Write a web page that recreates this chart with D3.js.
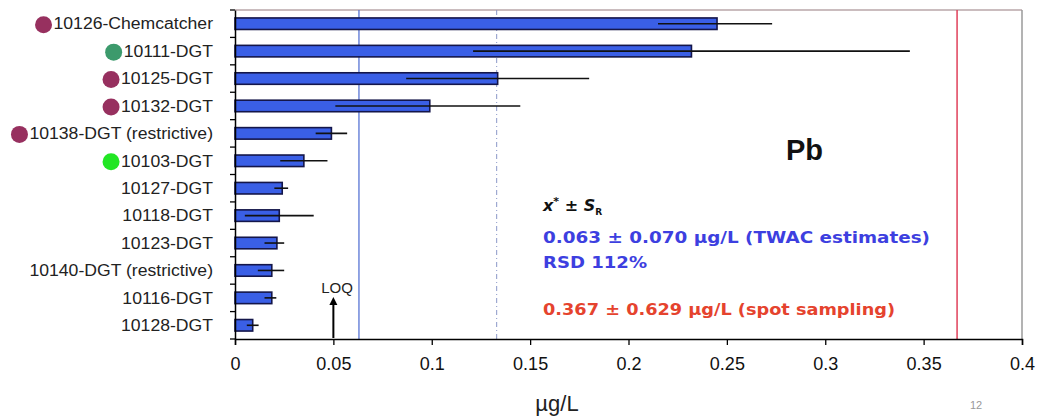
<!DOCTYPE html>
<html>
<head>
<meta charset="utf-8">
<script src="https://cdn.jsdelivr.net/npm/d3@7"></script>
<style>
  html, body { margin: 0; padding: 0; background: #fff; }
  svg { display: block; }
</style>
</head>
<body>
<svg id="chart" width="1041" height="416"></svg>
<script>
// ---- data ----
const categories = [
  "10126-Chemcatcher", "10111-DGT", "10125-DGT", "10132-DGT",
  "10138-DGT (restrictive)", "10103-DGT", "10127-DGT", "10118-DGT",
  "10123-DGT", "10140-DGT (restrictive)", "10116-DGT", "10128-DGT"
];
const values = [0.245, 0.232, 0.1335, 0.099, 0.049, 0.035, 0.024, 0.0225, 0.0213, 0.0187, 0.0187, 0.009];
const errLow  = [0.215, 0.121, 0.087, 0.051, 0.041, 0.023, 0.020, 0.005, 0.015, 0.0116, 0.015, 0.006];
const errHigh = [0.273, 0.343, 0.180, 0.145, 0.057, 0.047, 0.027, 0.040, 0.025, 0.025, 0.021, 0.012];
const dotGroup = ["maroon", "teal", "maroon", "maroon", "maroon", "lime", null, null, null, null, null, null];
const xTicks = [0, 0.05, 0.1, 0.15, 0.2, 0.25, 0.3, 0.35, 0.4];
const xTickLabels = ["0", "0.05", "0.1", "0.15", "0.2", "0.25", "0.3", "0.35", "0.4"];
const assignedValue = 0.063;
const assignedSR = 0.070;
const spotValue = 0.367;
const loqValue = 0.05;
const annotationLines = [
  "0.063 ± 0.070 µg/L (TWAC estimates)",
  "RSD 112%",
  "0.367 ± 0.629 µg/L (spot sampling)"
];
const xLabel = "µg/L";
const element = "Pb";

// ---- layout ----
const svg = d3.select("#chart");
const m = { left: 235, right: 1022, top: 10, bottom: 339 };

const x = d3.scaleLinear().domain([0, 0.4]).range([m.left, m.right]);
const y = d3.scaleBand().domain(categories).range([m.top, m.bottom]).paddingInner(0.58).paddingOuter(0.29);

const dotColor = d3.scaleOrdinal().domain(["maroon", "teal", "lime"]).range(["#97305f", "#3c9a6c", "#22e624"]);

// plot frame (top & right)
svg.append("line").attr("x1", m.left).attr("x2", m.right).attr("y1", m.top).attr("y2", m.top)
  .attr("stroke", "#b9a6a8").attr("stroke-width", 1.5);
svg.append("line").attr("x1", m.right).attr("x2", m.right).attr("y1", m.top).attr("y2", m.bottom)
  .attr("stroke", "#9a9a9a").attr("stroke-width", 1.5);

// reference lines
svg.append("line").attr("x1", x(assignedValue)).attr("x2", x(assignedValue))
  .attr("y1", m.top).attr("y2", m.bottom).attr("stroke", "#5874d4").attr("stroke-width", 1.3);
svg.append("line").attr("x1", x(assignedValue + assignedSR)).attr("x2", x(assignedValue + assignedSR))
  .attr("y1", m.top).attr("y2", m.bottom).attr("stroke", "#8a98c8").attr("stroke-width", 1)
  .attr("stroke-dasharray", "5,3,1,3");
svg.append("line").attr("x1", x(spotValue)).attr("x2", x(spotValue))
  .attr("y1", m.top).attr("y2", m.bottom).attr("stroke", "#e0405a").attr("stroke-width", 1.5);

// bars
svg.append("g").selectAll("rect").data(categories).join("rect")
  .attr("x", x(0))
  .attr("y", d => y(d))
  .attr("width", (d, i) => x(values[i]) - x(0))
  .attr("height", y.bandwidth())
  .attr("fill", "#3a5fe6")
  .attr("stroke", "#14164a")
  .attr("stroke-width", 1.6);

// error bars
svg.append("g").selectAll("line").data(categories).join("line")
  .attr("x1", (d, i) => x(errLow[i]))
  .attr("x2", (d, i) => x(errHigh[i]))
  .attr("y1", d => y(d) + y.bandwidth() / 2)
  .attr("y2", d => y(d) + y.bandwidth() / 2)
  .attr("stroke", "#111").attr("stroke-width", 1.6);

// y axis
const yAxis = d3.axisLeft(y).tickSize(0).tickFormat("");
const yg = svg.append("g").attr("transform", `translate(${m.left},0)`).call(yAxis);
yg.select(".domain").attr("stroke", "#000").attr("stroke-width", 1.5);
const bounds = d3.range(categories.length + 1).map(i => m.top + i * (m.bottom - m.top) / categories.length);
svg.append("g").selectAll("line").data(bounds).join("line")
  .attr("x1", m.left - 5).attr("x2", m.left).attr("y1", d => d).attr("y2", d => d)
  .attr("stroke", "#000").attr("stroke-width", 1.3);

// category labels (slightly stretched horizontally like the original)
const labels = svg.append("g").selectAll("text").data(categories).join("text")
  .attr("x", 213)
  .attr("y", d => y(d) + y.bandwidth() / 2)
  .attr("dy", "0.36em")
  .attr("text-anchor", "end")
  .attr("font-family", "Liberation Sans, Arial, sans-serif")
  .attr("font-size", 16)
  .attr("fill", "#222")
  .text(d => d);
labels.each(function() {
  const len = this.getComputedTextLength();
  d3.select(this).attr("textLength", len * 1.1).attr("lengthAdjust", "spacingAndGlyphs");
});

// dots before labels
labels.each(function(d, i) {
  if (!dotGroup[i]) return;
  const len = +this.getAttribute("textLength");
  svg.append("circle")
    .attr("cx", 213 - len - 10)
    .attr("cy", y(d) + y.bandwidth() / 2 + 1)
    .attr("r", 8.5)
    .attr("fill", dotColor(dotGroup[i]));
});

// x axis
const xAxis = d3.axisBottom(x).tickValues(xTicks).tickSize(6).tickFormat((d, i) => xTickLabels[i]);
const xg = svg.append("g").attr("transform", `translate(0,${m.bottom})`).call(xAxis);
xg.select(".domain").attr("stroke", "#000").attr("stroke-width", 1.5);
xg.selectAll(".tick line").attr("stroke", "#000").attr("stroke-width", 1.3);
xg.selectAll(".tick text")
  .attr("y", 18).attr("dy", "0.71em")
  .attr("font-family", "Liberation Sans, Arial, sans-serif")
  .attr("font-size", 18)
  .attr("fill", "#111");

svg.append("text").attr("x", 557).attr("y", 411).attr("text-anchor", "middle")
  .attr("font-family", "Liberation Sans, Arial, sans-serif").attr("font-size", 22).attr("fill", "#222")
  .text(xLabel);

// LOQ arrow
svg.append("defs").append("marker").attr("id", "arr").attr("viewBox", "0 0 10 10")
  .attr("refX", 5).attr("refY", 5).attr("markerWidth", 4).attr("markerHeight", 5).attr("orient", "auto")
  .append("path").attr("d", "M0,0 L10,5 L0,10 z").attr("fill", "#000");
svg.append("line").attr("x1", x(loqValue)).attr("x2", x(loqValue))
  .attr("y1", m.bottom - 1).attr("y2", 301).attr("stroke", "#000").attr("stroke-width", 2)
  .attr("marker-end", "url(#arr)");
svg.append("text").attr("x", 337).attr("y", 293).attr("text-anchor", "middle")
  .attr("font-family", "Liberation Sans, Arial, sans-serif").attr("font-size", 15).attr("fill", "#222")
  .text("LOQ");

// element label
svg.append("text").attr("x", 786).attr("y", 160)
  .attr("font-family", "Liberation Sans, Arial, sans-serif").attr("font-weight", "bold")
  .attr("font-size", 29).attr("fill", "#111").text(element);

// annotation text
const ann = svg.append("g").attr("font-family", "DejaVu Sans, sans-serif").attr("font-weight", "bold");
const hdr = ann.append("text").attr("x", 543).attr("y", 211).attr("font-size", 16).attr("fill", "#111");
hdr.append("tspan").attr("font-style", "italic").text("x");
hdr.append("tspan").attr("dy", -6).attr("font-size", 11).text("*");
hdr.append("tspan").attr("dy", 6).text(" ± ");
hdr.append("tspan").attr("font-style", "italic").text("S");
hdr.append("tspan").attr("dy", 4).attr("font-size", 9).text("R");

ann.append("text").attr("x", 543).attr("y", 243).attr("font-size", 16).attr("fill", "#3d3fe0")
  .attr("textLength", 387).attr("lengthAdjust", "spacingAndGlyphs").text(annotationLines[0]);
ann.append("text").attr("x", 543).attr("y", 268).attr("font-size", 16).attr("fill", "#3d3fe0")
  .attr("textLength", 104).attr("lengthAdjust", "spacingAndGlyphs").text(annotationLines[1]);
ann.append("text").attr("x", 543).attr("y", 315).attr("font-size", 16).attr("fill", "#e5432e")
  .attr("textLength", 352).attr("lengthAdjust", "spacingAndGlyphs").text(annotationLines[2]);

// slide number
svg.append("text").attr("x", 976).attr("y", 409).attr("text-anchor", "middle")
  .attr("font-family", "Liberation Sans, Arial, sans-serif").attr("font-size", 11).attr("fill", "#999")
  .text("12");
</script>
</body>
</html>
